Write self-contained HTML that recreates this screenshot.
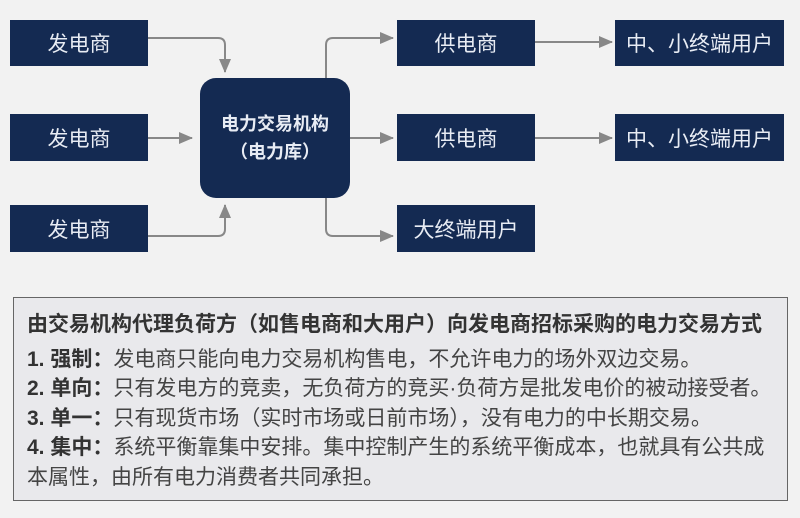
<!DOCTYPE html>
<html><head><meta charset="utf-8"><style>
body{margin:0;width:800px;height:518px;background:#f2f2f2;font-family:"Liberation Sans","Noto Sans CJK SC",sans-serif;position:relative;overflow:hidden}
.b{position:absolute;background:#142a52;color:#e8ecf4;display:flex;align-items:center;justify-content:center;font-size:21px}
.t{position:absolute;left:13px;top:297px;width:773px;height:202px;background:#e9e9ec;border:1.5px solid #666}
.l{position:absolute;left:13px;font-size:21px;line-height:24px;color:#444;white-space:nowrap}
.l b{color:#333}
</style></head><body>
<svg width="800" height="518" style="position:absolute;left:0;top:0">
<defs><marker id="a" markerWidth="14" markerHeight="12" refX="13" refY="6" orient="auto" markerUnits="userSpaceOnUse"><path d="M0,0 L14,6 L0,12z" fill="#888"/></marker></defs>
<g fill="none" stroke="#888" stroke-width="2" marker-end="url(#a)">
<path d="M148,38 H218 Q225,38 225,45 V72"/>
<path d="M148,138 H192"/>
<path d="M148,236 H218 Q225,236 225,229 V205"/>
<path d="M326,78 V45 Q326,38 333,38 H393"/>
<path d="M350,138 H393"/>
<path d="M326,198 V229 Q326,236 333,236 H393"/>
<path d="M535,42 H612"/>
<path d="M535,138 H612"/>
</g></svg>
<div class="b" style="left:10px;top:20px;width:138px;height:46px">发电商</div>
<div class="b" style="left:10px;top:114px;width:138px;height:47px">发电商</div>
<div class="b" style="left:10px;top:205px;width:138px;height:47px">发电商</div>
<div class="b" style="left:200px;top:78px;width:150px;height:120px;border-radius:16px;flex-direction:column;font-size:18px;font-weight:bold;line-height:28px">电力交易机构<span>（电力库）</span></div>
<div class="b" style="left:397px;top:20px;width:138px;height:46px">供电商</div>
<div class="b" style="left:397px;top:114px;width:138px;height:47px">供电商</div>
<div class="b" style="left:397px;top:205px;width:138px;height:47px">大终端用户</div>
<div class="b" style="left:615px;top:20px;width:169px;height:46px">中、小终端用户</div>
<div class="b" style="left:615px;top:114px;width:169px;height:47px">中、小终端用户</div>
<div class="t">
<div class="l" style="top:15px"><b>由交易机构代理负荷方（如售电商和大用户）向发电商招标采购的电力交易方式</b></div>
<div class="l" style="top:50px"><b>1. 强制：</b>发电商只能向电力交易机构售电，不允许电力的场外双边交易。</div>
<div class="l" style="top:79px"><b>2. 单向：</b>只有发电方的竞卖，无负荷方的竞买·负荷方是批发电价的被动接受者。</div>
<div class="l" style="top:109px"><b>3. 单一：</b>只有现货市场（实时市场或日前市场），没有电力的中长期交易。</div>
<div class="l" style="top:138px"><b>4. 集中：</b>系统平衡靠集中安排。集中控制产生的系统平衡成本，也就具有公共成</div>
<div class="l" style="top:168px">本属性，由所有电力消费者共同承担。</div>
</div>
</body></html>
